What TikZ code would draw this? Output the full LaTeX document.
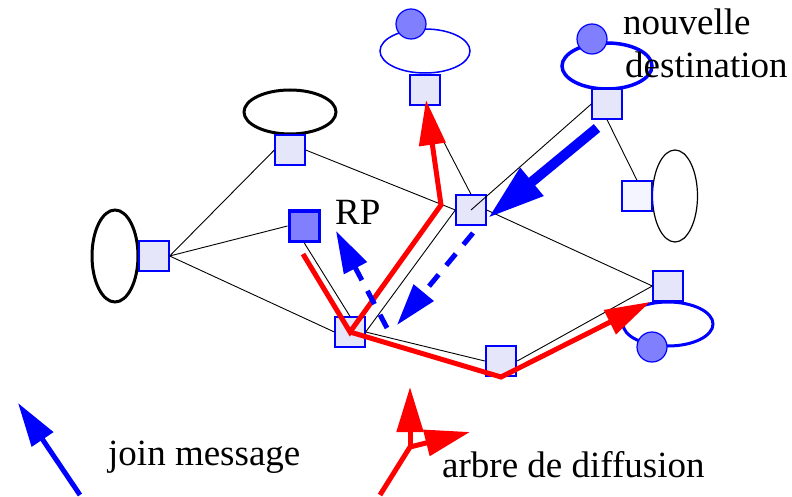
\documentclass[tikz,border=0pt]{standalone}
\usepackage{fontspec}
\setmainfont{Liberation Serif}
\usetikzlibrary{arrows.meta,shapes.geometric}
\definecolor{lav}{RGB}{230,230,250}
\definecolor{lavlight}{RGB}{245,245,255}
\definecolor{mblue}{RGB}{128,128,255}
\begin{document}
\begin{tikzpicture}[x=1pt,y=-1pt,
  router/.style={draw=blue,fill=lav,minimum size=30pt,inner sep=0pt,line width=1.3pt},
  host/.style={ellipse,draw,inner sep=0pt},
  member/.style={circle,draw=blue,fill=mblue,minimum size=30pt,inner sep=0pt,line width=1.2pt},
  link/.style={line width=0.9pt},
  tree/.style={draw=red,line width=5pt},
  treetip/.style={tree,-{Triangle[length=45pt,width=26pt]}},
  joinbig/.style={draw=blue,line width=10pt,-{Triangle[length=57pt,width=34pt]}},
  joindash/.style={draw=blue,line width=5pt,dash pattern=on 15pt off 12pt,-{Triangle[length=42pt,width=25pt]}},
  legjoin/.style={draw=blue,line width=5pt,-{Triangle[length=44pt,width=25pt]}},
  lbl/.style={anchor=base west,inner sep=0pt,font=\fontsize{37}{43}\selectfont},
]
\useasboundingbox (0,0) rectangle (792,497);

% hosts (ellipses)
\node[host,draw=blue,line width=1.5pt,minimum width=90pt,minimum height=44pt] (hA) at (425,51) {};
\node[host,draw=blue,line width=3.5pt,minimum width=90pt,minimum height=46pt] (hB) at (607,66) {};
\node[host,line width=3pt,minimum width=92pt,minimum height=44pt] (hC) at (290,112) {};
\node[host,line width=3pt,minimum width=46pt,minimum height=92pt] (hD) at (115,256) {};
\node[host,line width=1.2pt,minimum width=45pt,minimum height=92pt] (hH) at (675,196) {};
\node[host,draw=blue,line width=3pt,minimum width=90pt,minimum height=44pt] (hI) at (668,324) {};

% routers
\node[router] (A) at (425,90) {};
\node[router] (B) at (607,104) {};
\node[router] (C) at (290,150) {};
\node[router] (D) at (154,256) {};
\node[router,fill=mblue,line width=3pt] (E) at (304,226) {};
\node[router] (F) at (350,332) {};
\node[router] (G) at (471,210) {};
\node[router,fill=lavlight] (H) at (637,196) {};
\node[router] (I) at (668,286) {};
\node[router,line width=2.5pt] (J) at (501,361) {};

% members
\node[member] (mA) at (411,24) {};
\node[member] (mB) at (592,39) {};
\node[member] (mI) at (652,347) {};

% links
\draw[link] (D.east) -- (C.west);
\draw[link] (D.east) -- (E.west);
\draw[link] (D.east) -- (F.west);
\draw[link] (C.east) -- (G.west);
\draw[link] (G.east) -- (I.west);
\draw[link] (E.south) -- (F.north);
\draw[link] (F.east) -- (G.west);
\draw[link] (G.north) -- (A.south);
\draw[link] (G.center) -- (B.west);
\draw[link] (B.south) -- (H.north);
\draw[link] (F.east) -- (J.west);
\draw[link] (J.east) -- (I.west);

% diffusion tree
\coordinate (rs) at (303,254);
\coordinate (rv) at (441,205);
\coordinate (ra) at (426,100);
\coordinate (jb) at (501,377);
\coordinate (ri) at (650,302);
\draw[treetip] (rs) -- (F.center) -- (rv) -- (ra);
\draw[treetip] (F.center) -- (jb) -- (ri);

% join messages
\coordinate (b1) at (597,128);
\coordinate (b2) at (488,218);
\draw[joinbig] (b1) -- (b2);
\coordinate (d1) at (473,233);
\coordinate (d2) at (397,325);
\draw[joindash] (d1) -- (d2);
\coordinate (u1) at (387,328);
\coordinate (u2) at (336,231);
\draw[joindash] (u1) -- (u2);

% labels
\node[lbl] (rp) at (335,225) {RP};
\node[lbl] (nd1) at (623,35) {nouvelle};
\node[lbl] (nd2) at (625,78) {destination};

% legend
\coordinate (lb1) at (80,495);
\coordinate (lb2) at (18,403);
\draw[legjoin] (lb1) -- (lb2);
\node[lbl] (ljoin) at (108,465) {join message};
\coordinate (lr0) at (380,495);
\coordinate (lr1) at (410,447);
\coordinate (lr2) at (410,387);
\coordinate (lr3) at (470,432);
\draw[tree] (lr0) -- (lr1);
\draw[treetip] (lr1) -- (lr2);
\draw[treetip] (lr1) -- (lr3);
\node[lbl] (larbre) at (442,477) {arbre de diffusion};
\end{tikzpicture}
\end{document}
